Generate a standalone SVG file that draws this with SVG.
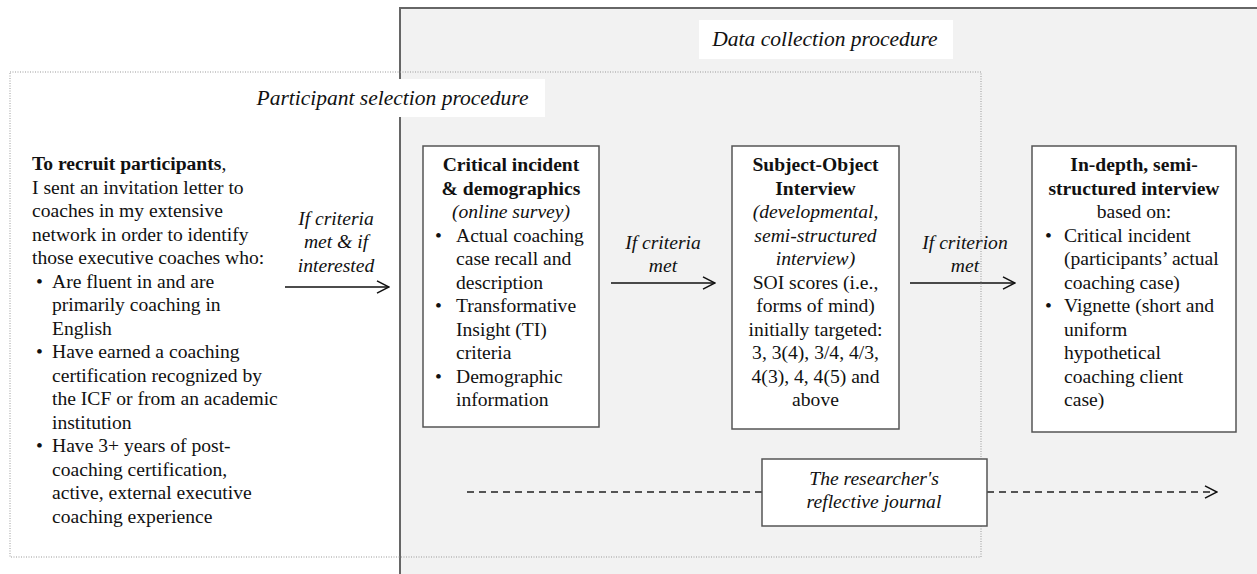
<svg xmlns="http://www.w3.org/2000/svg" width="1257" height="574" viewBox="0 0 1257 574" font-family="Liberation Serif" font-size="19.6">
<style>
text{fill:#111}
.b{font-weight:bold}
.i{font-style:italic}
.c{text-anchor:middle}
.h{font-size:21.5px;font-style:italic}
.node{fill:#fff;stroke:#555;stroke-width:1.5}
.arr{stroke:#111;stroke-width:1.5;fill:none}
.dash{stroke:#222;stroke-width:1.5;fill:none;stroke-dasharray:7 5}
</style>
<defs>
<marker id="open" viewBox="0 0 14 14" refX="13" refY="7" markerWidth="14" markerHeight="14" markerUnits="userSpaceOnUse" orient="auto">
<path d="M1,0.8 L13,7 L1,13.2" fill="none" stroke="#111" stroke-width="1.5"/>
</marker>
</defs>
<rect width="1257" height="574" fill="#fff"/>
<g id="data-collection" font-family="Liberation Serif">
<rect x="400" y="8" width="900" height="600" fill="#f2f2f2" stroke="#666" stroke-width="2"/>
<rect x="699" y="20" width="254" height="39" fill="#fff"/>
<text class="h c" x="825" y="46">Data collection procedure</text>
</g>
<g id="participant-selection" font-family="Liberation Serif">
<rect x="243" y="79" width="302" height="38" fill="#fff"/>
<text class="h c" x="392.5" y="105">Participant selection procedure</text>
</g>
<g id="recruit" font-family="Liberation Serif">
<text x="32" y="170"><tspan class="b">To recruit participants</tspan>,</text>
<text x="32" y="193.5">I sent an invitation letter to</text>
<text x="32" y="217">coaches in my extensive</text>
<text x="32" y="240.5">network in order to identify</text>
<text x="32" y="264">those executive coaches who:</text>
<text x="36" y="287.5">•</text><text x="52" y="287.5">Are fluent in and are</text>
<text x="52" y="311">primarily coaching in</text>
<text x="52" y="334.5">English</text>
<text x="36" y="358">•</text><text x="52" y="358">Have earned a coaching</text>
<text x="52" y="381.5">certification recognized by</text>
<text x="52" y="405">the ICF or from an academic</text>
<text x="52" y="428.5">institution</text>
<text x="36" y="452">•</text><text x="52" y="452">Have 3+ years of post-</text>
<text x="52" y="475.5">coaching certification,</text>
<text x="52" y="499">active, external executive</text>
<text x="52" y="522.5">coaching experience</text>
</g>
<g id="critical-incident" font-family="Liberation Serif">
<rect class="node" x="423" y="146" width="176" height="281"/>
<text class="b c" x="511" y="171">Critical incident</text>
<text class="b c" x="511" y="194.5">&amp; demographics</text>
<text class="i c" x="511" y="218">(online survey)</text>
<text x="435" y="241.5">•</text><text x="456" y="241.5">Actual coaching</text>
<text x="456" y="265">case recall and</text>
<text x="456" y="288.5">description</text>
<text x="435" y="312">•</text><text x="456" y="312">Transformative</text>
<text x="456" y="335.5">Insight (TI)</text>
<text x="456" y="359">criteria</text>
<text x="435" y="382.5">•</text><text x="456" y="382.5">Demographic</text>
<text x="456" y="406">information</text>
</g>
<g id="soi" font-family="Liberation Serif">
<rect class="node" x="732" y="146" width="167" height="283"/>
<text class="b c" x="815.5" y="171">Subject-Object</text>
<text class="b c" x="815.5" y="194.5">Interview</text>
<text class="i c" x="815.5" y="218">(developmental,</text>
<text class="i c" x="815.5" y="241.5">semi-structured</text>
<text class="i c" x="815.5" y="265">interview)</text>
<text class="c" x="815.5" y="288.5">SOI scores (i.e.,</text>
<text class="c" x="815.5" y="312">forms of mind)</text>
<text class="c" x="815.5" y="335.5">initially targeted:</text>
<text class="c" x="815.5" y="359">3, 3(4), 3/4, 4/3,</text>
<text class="c" x="815.5" y="382.5">4(3), 4, 4(5) and</text>
<text class="c" x="815.5" y="406">above</text>
</g>
<g id="in-depth" font-family="Liberation Serif">
<rect class="node" x="1032" y="146" width="204" height="286"/>
<text class="b c" x="1134" y="171">In-depth, semi-</text>
<text class="b c" x="1134" y="194.5">structured interview</text>
<text class="c" x="1134" y="218">based on:</text>
<text x="1045" y="241.5">•</text><text x="1064" y="241.5">Critical incident</text>
<text x="1064" y="265">(participants’ actual</text>
<text x="1064" y="288.5">coaching case)</text>
<text x="1045" y="312">•</text><text x="1064" y="312">Vignette (short and</text>
<text x="1064" y="335.5">uniform</text>
<text x="1064" y="359">hypothetical</text>
<text x="1064" y="382.5">coaching client</text>
<text x="1064" y="406">case)</text>
</g>
<g id="connectors" font-family="Liberation Serif">
<text class="i c" x="336" y="225">If criteria</text>
<text class="i c" x="336" y="248">met &amp; if</text>
<text class="i c" x="336" y="272">interested</text>
<line class="arr" x1="285" y1="287" x2="389" y2="287" marker-end="url(#open)"/>
<text class="i c" x="663" y="249">If criteria</text>
<text class="i c" x="663" y="272">met</text>
<line class="arr" x1="611" y1="283" x2="715" y2="283" marker-end="url(#open)"/>
<text class="i c" x="965" y="249">If criterion</text>
<text class="i c" x="965" y="272">met</text>
<line class="arr" x1="910" y1="283" x2="1015" y2="283" marker-end="url(#open)"/>
<line class="dash" x1="467" y1="492" x2="762" y2="492"/>
<line class="dash" x1="987" y1="492" x2="1217" y2="492" marker-end="url(#open)"/>
</g>
<rect id="selection-frame" x="10" y="72" width="971" height="485" fill="none" stroke="#999" stroke-width="1" stroke-dasharray="1 1.5"/>
<g id="journal" font-family="Liberation Serif">
<rect class="node" x="762" y="459" width="225" height="67"/>
<text class="i c" x="874" y="485">The researcher's</text>
<text class="i c" x="874" y="508">reflective journal</text>
</g>
</svg>
